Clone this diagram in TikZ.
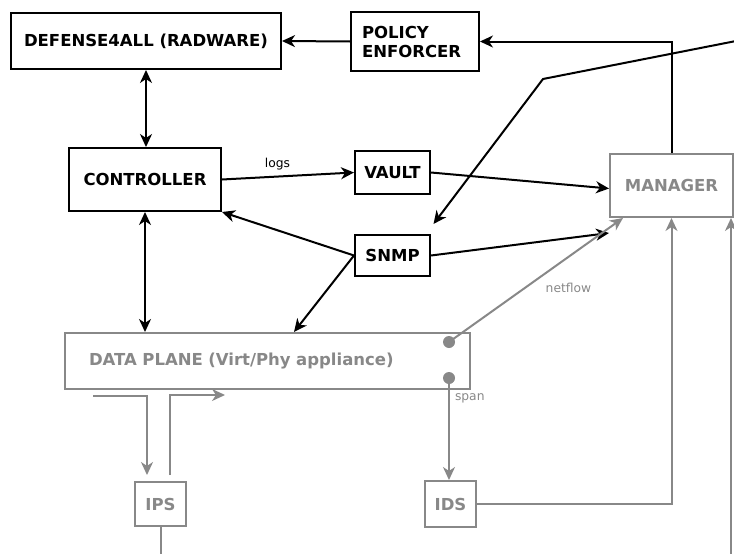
\documentclass[tikz,border=0pt]{standalone}
\usepackage{fontspec}
\setmainfont{DejaVu Sans}
\usetikzlibrary{arrows.meta}
\definecolor{gr}{HTML}{888888}
\tikzset{
  box/.style={draw, line width=2pt, inner sep=0pt, align=center,
    font=\bfseries\fontsize{16.5}{19}\selectfont},
  gbox/.style={box, draw=gr, text=gr},
  tip/.style={-{Stealth[length=13pt,width=12pt,inset=4pt]}},
  arr/.style={tip, line width=2pt},
  dbl/.style={{Stealth[length=13pt,width=12pt,inset=4pt]}-{Stealth[length=13pt,width=12pt,inset=4pt]}, line width=2pt},
  garr/.style={arr, draw=gr},
  lbl/.style={font=\fontsize{12.3}{14}\selectfont, inner sep=0pt},
  dot/.style={circle, fill=gr, inner sep=0pt, minimum size=12pt},
}
\begin{document}
\begin{tikzpicture}[x=1pt,y=-1pt]
\useasboundingbox (0,0) rectangle (734,554);
% nodes
\node[box, minimum width=270pt, minimum height=56pt] (def) at (146,41) {DEFENSE4ALL (RADWARE)};
\node[box, minimum height=59pt, text width=106pt, inner xsep=11pt, align=left] (pol) at (415,41.5) {POLICY\\ENFORCER};
\node[box, minimum width=152pt, minimum height=63pt] (ctrl) at (145,179.5) {CONTROLLER};
\node[box, minimum width=75pt, minimum height=43pt] (vault) at (392.5,172.5) {VAULT};
\node[box, minimum width=75pt, minimum height=41pt] (snmp) at (392.5,255.5) {SNMP};
\node[gbox, minimum width=123pt, minimum height=63pt] (man) at (671.5,185.5) {MANAGER};
\node[gbox, minimum height=56pt, text width=357pt, inner xsep=24pt, align=left] (dp) at (267.5,361) {DATA PLANE (Virt/Phy appliance)};
\node[gbox, minimum width=51pt, minimum height=44pt] (ips) at (160.5,504) {IPS};
\node[gbox, minimum width=51pt, minimum height=46pt] (ids) at (450.5,504) {IDS};
\node[dot] (d1) at (449,342) {};
\node[dot] (d2) at (449,378) {};
\coordinate (tr) at (736,41);
\coordinate (bend) at (543,79);
\coordinate (re) at (731,556);
\coordinate (ipsin) at (93,396);
\coordinate (ipsout) at (225,395);
\coordinate (ipsend) at (160.5,556);
% connectors
\draw[arr] (pol.west) -- (def.east);
\draw[arr] (man.north) |- (pol.east);
\draw[arr] (tr) -- (bend) -- ([shift={(2.5,-10)}]snmp.north east);
\draw[dbl] (def.south) -- (def.south |- ctrl.north);
\draw[arr] (ctrl.east) -- node[lbl, above=6pt, pos=0.42] {logs} (vault.west);
\draw[arr] (vault.east) -- ([yshift=-3]man.west);
\draw[arr] (snmp.east) -- ([yshift=-15]man.south west);
\draw[arr] (snmp.west) -- (ctrl.south east);
\draw[arr] (snmp.west) -- (dp.north -| 294,0);
\draw[dbl] (ctrl.south) -- (ctrl.south |- dp.north);
\draw[garr] (d1.center) -- node[lbl, text=gr, pos=0.55, anchor=north west, yshift=-8pt] {netflow} ([xshift=14]man.south west);
\draw[garr] (d2.center) -- node[lbl, text=gr, anchor=west, xshift=5pt, pos=0.2] {span} (ids.north -| d2);
\draw[garr] (ids.east) -| (man.south);
\draw[garr] (re) -- (re |- man.south);
\draw[garr] (ipsin) -| ([shift={(-13.5,-6)}]ips.north);
\draw[garr] ([shift={(9.5,-6)}]ips.north) |- (ipsout);
\draw[line width=2pt, draw=gr] (ips.south) -- (ipsend);
\end{tikzpicture}
\end{document}
